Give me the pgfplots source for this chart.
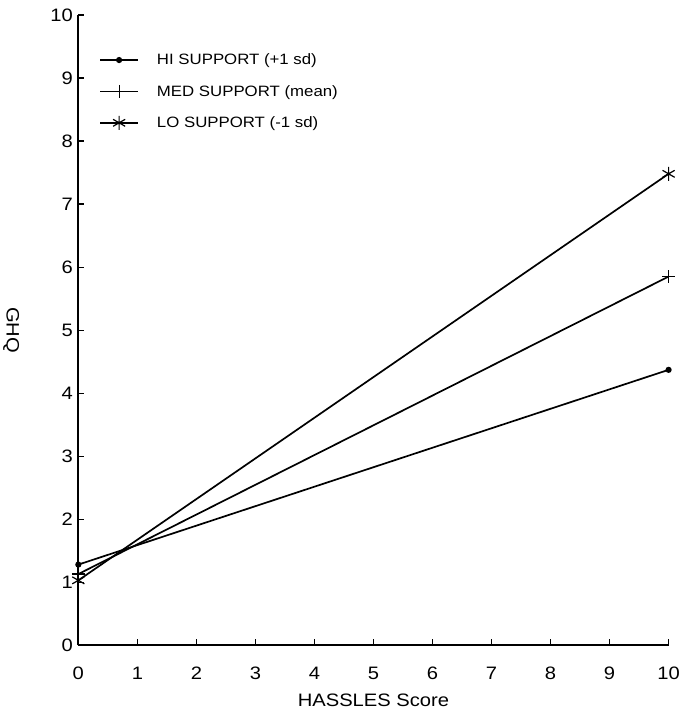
\documentclass[border=0pt]{standalone}
\usepackage{fontspec}
\setmainfont{Liberation Sans}[FakeStretch=1.12]
\usepackage{pgfplots}
\pgfplotsset{compat=1.18}
\begin{document}
\begin{tikzpicture}
\begin{axis}[
  scale only axis, width=590pt, height=630pt,
  xmin=0, xmax=10, ymin=0, ymax=10,
  axis lines=left,
  axis line style={-, line width=1.8pt},
  xtick={0,1,...,10}, ytick={0,1,...,10},
  tick align=inside, major tick length=6pt,
  tick style={line width=1.2pt, black},
  /pgf/number format/assume math mode=true,
  tick label style={font=\fontsize{18}{18}\selectfont},
  xticklabel style={yshift=-18pt},
  yticklabel style={xshift=-2pt},
  xlabel={HASSLES Score},
  ylabel={GHQ},
  label style={font=\fontsize{18}{18}\selectfont},
  xlabel style={at={([yshift=-55pt]axis description cs:0.5,0)}, anchor=center},
  ylabel style={at={([xshift=-67pt]axis description cs:0,0.5)}, anchor=center, rotate=180},
  legend style={draw=none, fill=none, at={(axis description cs:0.03,0.945)}, anchor=north west,
    font=\fontsize{15}{15}\selectfont, row sep=15pt},
  legend cell align=left,
  legend image code/.code={\draw[mark repeat=2, mark phase=2, #1] plot coordinates {(0pt,0pt) (19pt,0pt) (38pt,0pt)}; \path (54pt,0pt);},
  every axis plot/.append style={line width=1.7pt, black},
  after end axis/.code={\path ([yshift=15pt]rel axis cs:0,1);},
]
\addplot[mark=*, mark size=2.2pt] coordinates {(0,1.28) (10,4.37)};
\addlegendentry{HI SUPPORT (+1 sd)}
\addplot[mark=+, mark size=6.5pt, mark options={line width=1.1pt}] coordinates {(0,1.13) (10,5.85)};
\addlegendentry{MED SUPPORT (mean)}
\addplot[mark=asterisk, mark size=7pt, mark options={line width=1.2pt}] coordinates {(0,1.03) (10,7.48)};
\addlegendentry{LO SUPPORT (-1 sd)}
\end{axis}
\end{tikzpicture}
\end{document}
